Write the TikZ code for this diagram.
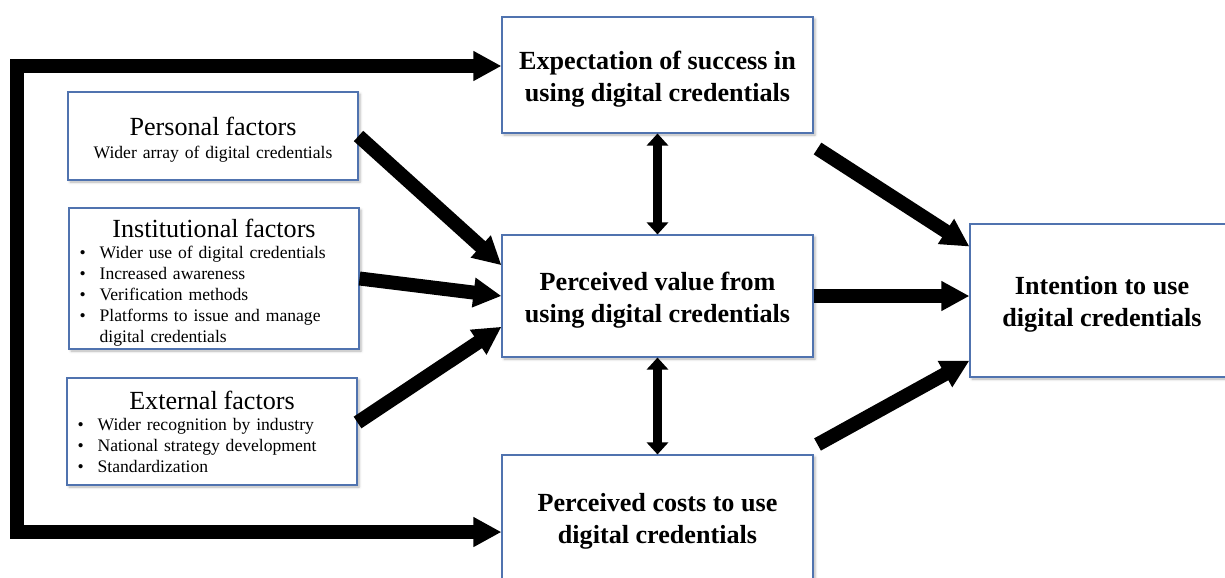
\documentclass[tikz,border=0pt]{standalone}
\usepackage{fontspec}
\setmainfont{Liberation Serif}
\usepackage{xcolor}
\usetikzlibrary{arrows.meta,calc,shadows.blur}

\definecolor{boxblue}{RGB}{80,115,175}
\newcommand{\bigfont}{\fontsize{19.6}{24}\selectfont}
\newcommand{\smallfont}{\fontsize{13.2}{15.75}\selectfont}
\newcommand{\itm}[1]{\makebox[15pt][l]{\textbullet}#1}
% taller first line, pushes the box text down a bit
\newcommand{\tallstrut}{\rule{0pt}{19.5pt}}

\begin{document}
\begin{tikzpicture}[x=0.75pt,y=-0.75pt,
	>={Triangle[length=21pt,width=21pt]},
	boxshadow/.style={blur shadow={shadow xshift=1.5pt,shadow yshift=-1.5pt,shadow blur radius=2pt,shadow opacity=30}},
	mainbox/.style={draw=boxblue,line width=0.8pt,fill=white,boxshadow,align=center,font=\bigfont\bfseries,minimum width=233.25pt},
	factorbox/.style={draw=boxblue,line width=0.8pt,fill=white,boxshadow,text width=201.5pt,inner xsep=8pt,inner ysep=2pt,align=left,font=\smallfont},
	fatarrow/.style={line width=10.5pt,->},
	linkarrow/.style={line width=6.75pt,{Triangle[length=9pt,width=15.75pt]}-{Triangle[length=9pt,width=15.75pt]}}]
	\useasboundingbox (0,0) rectangle (1225,578);

	% outcome boxes
	\node[mainbox,minimum height=87pt] (expect) at (657.5,75) {\tallstrut Expectation of success in\\using digital credentials};
	\node[mainbox,minimum height=91.5pt] (value) at (657.5,296) {\tallstrut Perceived value from\\using digital credentials};
	\node[mainbox,minimum height=93.75pt] (costs) at (657.5,517.5) {\tallstrut Perceived costs to use\\digital credentials};
	\node[mainbox,minimum width=198pt,minimum height=114.75pt] (intent) at (1102,300.5) {\tallstrut Intention to use\\digital credentials};

	% factor boxes
	\node[factorbox,align=center,minimum height=66pt] (personal) at (213,136) {{\bigfont\tallstrut Personal factors}\\[2pt]Wider array of digital credentials};
	\node[factorbox,minimum height=105.75pt] (inst) at (214,278.5) {\centerline{\bigfont\tallstrut Institutional factors}
		\itm{Wider use of digital credentials}\\
		\itm{Increased awareness}\\
		\itm{Verification methods}\\
		\itm{Platforms to issue and manage}\\
		\hspace*{15pt}digital credentials};
	\node[factorbox,minimum height=80.25pt] (external) at (212,431.5) {\centerline{\bigfont External factors}
		\itm{Wider recognition by industry}\\
		\itm{National strategy development}\\
		\itm{Standardization}};

	% factors into perceived value
	\draw[fatarrow] (personal.east) -- ($(value.north west)!.25!(value.south west)$);
	\draw[fatarrow] (inst.east) -- (value.west);
	\draw[fatarrow] ([yshift=6.75pt]external.east) -- ($(value.north west)!.75!(value.south west)$);

	% into intention
	\draw[fatarrow] ([shift={(3pt,-11.25pt)}]expect.south east) -- ($(intent.north west)!.15!(intent.south west)$);
	\draw[fatarrow] (value.east) -- (value.east -| intent.west);
	\draw[fatarrow] ([shift={(3pt,7.5pt)}]costs.north east) -- ($(intent.north west)!.89!(intent.south west)$);

	% feedback loop on the left
	\coordinate (loop) at (17,300);
	\draw[fatarrow,<->,line join=miter] ([yshift=6.75pt]expect.west) -| (loop) |- ([yshift=-10.9pt]costs.west);

	\draw[linkarrow] (expect.south) -- (value.north);
	\draw[linkarrow] (value.south) -- (costs.north);
\end{tikzpicture}
\end{document}
